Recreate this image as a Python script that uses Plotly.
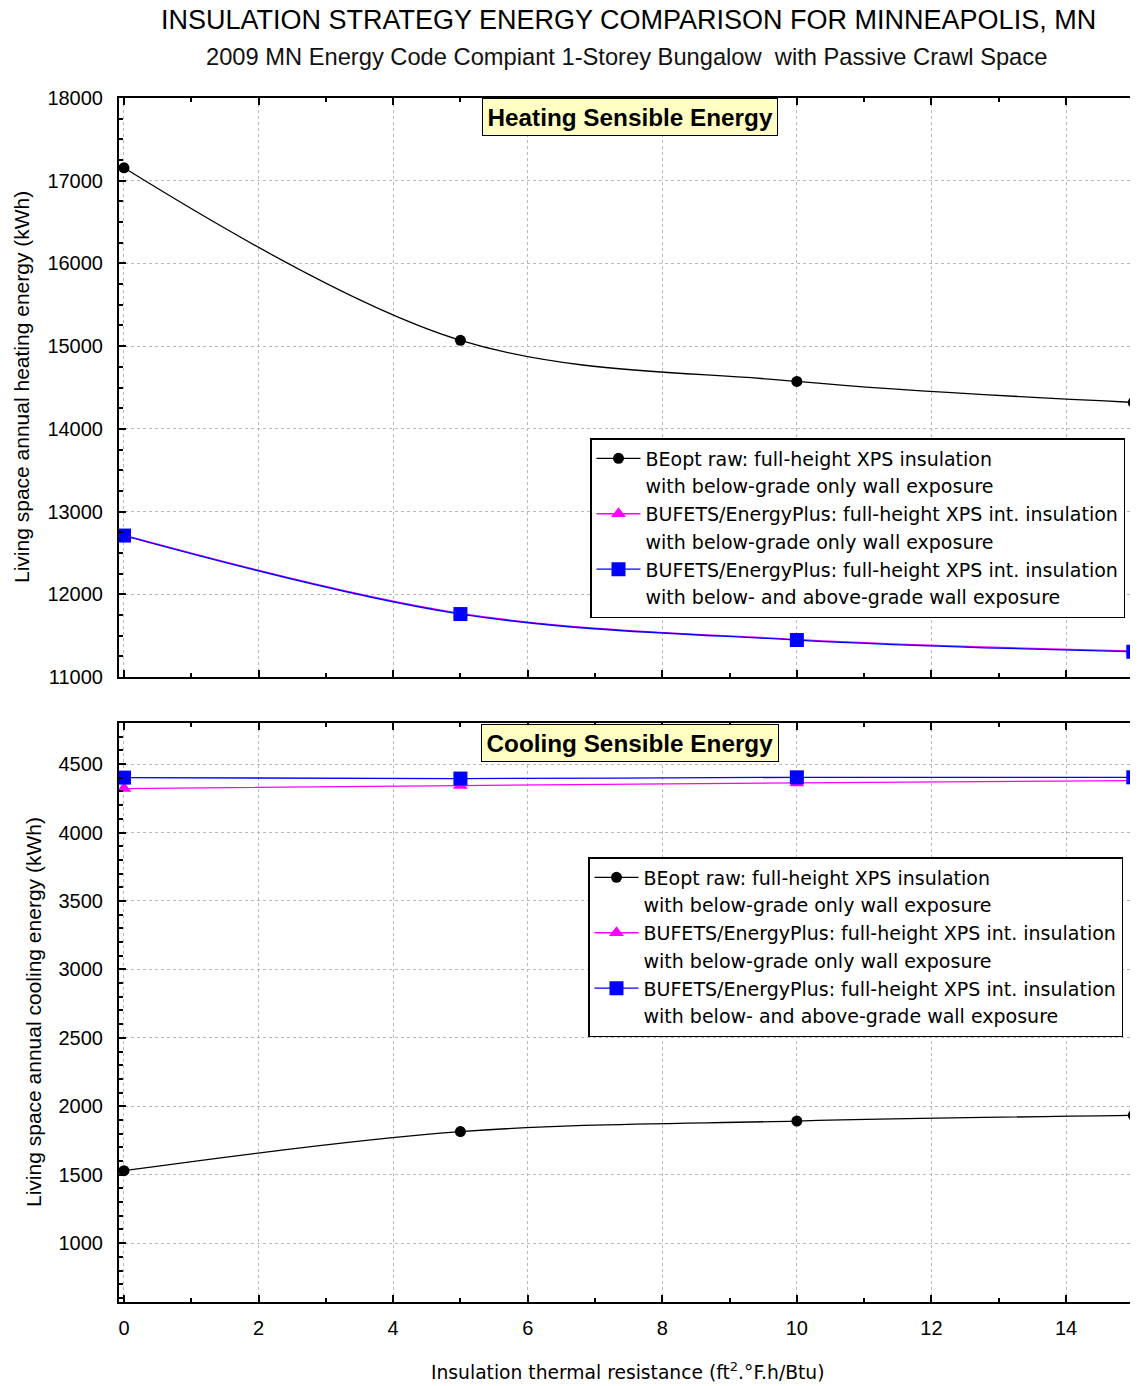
import plotly.graph_objects as go

# ---------------- data ----------------
r_values = [0, 5, 10, 15]

heat_beopt = [17156, 15070, 14574, 14320]
heat_bufets_below = [12715, 11770, 11455, 11315]
heat_bufets_both = [12710, 11761, 11447, 11305]

cool_beopt = [1529, 1815, 1892, 1934]
cool_bufets_below = [4321, 4343, 4362, 4379]
cool_bufets_both = [4401, 4394, 4403, 4403]

series_names = [
    "BEopt raw: full-height XPS insulation",
    "BUFETS/EnergyPlus: full-height XPS int. insulation",
    "BUFETS/EnergyPlus: full-height XPS int. insulation",
]
series_second_lines = [
    "with below-grade only wall exposure",
    "with below-grade only wall exposure",
    "with below- and above-grade wall exposure",
]
series_colors = ["#000000", "#FF00FF", "#0000FF"]
series_symbols = ["circle", "triangle-up", "square"]
series_sizes = [11, 13, 14]

title_text = "INSULATION STRATEGY ENERGY COMPARISON FOR MINNEAPOLIS, MN"
subtitle_text = "2009 MN Energy Code Compiant 1-Storey Bungalow  with Passive Crawl Space"
heat_label = "Heating Sensible Energy"
cool_label = "Cooling Sensible Energy"
heat_ytitle = "Living space annual heating energy (kWh)"
cool_ytitle = "Living space annual cooling energy (kWh)"
x_title = "Insulation thermal resistance (ft<sup>2</sup>.°F.h/Btu)"

# page offset (body margin of the html page)
OFF = 8
W, H = 1130, 1378
FONT = "Liberation Sans"
LEG_FONT = "DejaVu Sans"

fig = go.Figure()

def add_panel(values_list, xaxis, yaxis, legend):
    for i in range(3):
        fig.add_trace(go.Scatter(
            x=r_values, y=values_list[i], xaxis=xaxis, yaxis=yaxis,
            mode="lines+markers",
            line=dict(color=series_colors[i], width=1.3, shape="spline", smoothing=1.0),
            marker=dict(symbol=series_symbols[i], size=series_sizes[i], color=series_colors[i]),
            name=series_names[i], legend=legend,
            legendrank=2 * i + 1,
        ))
        fig.add_trace(go.Scatter(
            x=[None], y=[None], xaxis=xaxis, yaxis=yaxis, mode="lines",
            line=dict(color="rgba(0,0,0,0)", width=0),
            name=series_second_lines[i], legend=legend,
            legendrank=2 * i + 2, hoverinfo="skip",
        ))

add_panel([heat_beopt, heat_bufets_below, heat_bufets_both], "x", "y", "legend")
add_panel([cool_beopt, cool_bufets_below, cool_bufets_both], "x2", "y2", "legend2")

def px_x(p):
    return (p - OFF) / W

def px_y(p):
    return 1 - (p - OFF) / H

xdom = [px_x(119), min(1.0, px_x(1137))]
top_dom = [px_y(677), px_y(98)]
bot_dom = [px_y(1302), px_y(723)]
xrange_ = [-0.074, 15.055]

axis_common = dict(
    showline=True, linecolor="black", linewidth=2, mirror="ticks",
    ticks="inside", ticklen=7, tickwidth=2, tickcolor="black",
    showgrid=True, gridcolor="#b8b8b8", griddash="dot", gridwidth=1,
    zeroline=False, automargin=False,
    tickfont=dict(family=FONT, size=20, color="black"),
)
minor_common = dict(ticks="inside", ticklen=4, tickwidth=2, tickcolor="black", showgrid=False)

legend_common = dict(
    xanchor="left", yanchor="top",
    bgcolor="white", bordercolor="black", borderwidth=1.5,
    font=dict(family=LEG_FONT, size=19, color="black"),
    itemwidth=44, traceorder="normal",
)

fig.update_layout(
    width=W, height=H,
    margin=dict(l=0, r=0, t=0, b=0),
    paper_bgcolor="white", plot_bgcolor="white",
    showlegend=True,
    xaxis=dict(domain=xdom, range=xrange_, anchor="y", dtick=2, tick0=0,
               showticklabels=False,
               minor=dict(dtick=1, tick0=0, **minor_common),
               **axis_common),
    yaxis=dict(domain=top_dom, range=[11000, 18000], anchor="x", dtick=1000,
               tickformat="d", ticklabelstandoff=10,
               minor=dict(dtick=250, **minor_common),
               **axis_common),
    xaxis2=dict(domain=xdom, range=xrange_, anchor="y2", dtick=2, tick0=0,
                ticklabelstandoff=7,
                minor=dict(dtick=1, tick0=0, **minor_common),
                **axis_common),
    yaxis2=dict(domain=bot_dom, range=[570, 4800], anchor="x2", dtick=500,
                tickformat="d", ticklabelstandoff=10,
                minor=dict(dtick=100, **minor_common),
                **axis_common),
    legend=dict(x=px_x(590), y=px_y(438), **legend_common),
    legend2=dict(x=px_x(588), y=px_y(857), **legend_common),
)

annots = [
    dict(text=title_text, x=px_x(628), y=px_y(20), font=dict(family=FONT, size=27, color="black")),
    dict(text=subtitle_text, x=px_x(626), y=px_y(57), font=dict(family=FONT, size=23.7, color="#111111")),
    dict(text="<b>" + heat_label + "</b>", x=px_x(629.5), y=px_y(117.5), font=dict(family=FONT, size=24.3, color="black"),
         bgcolor="#FFFFC4", bordercolor="black", borderwidth=1, borderpad=4.5),
    dict(text="<b>" + cool_label + "</b>", x=px_x(629.5), y=px_y(742.5), font=dict(family=FONT, size=24.3, color="black"),
         bgcolor="#FFFFC4", bordercolor="black", borderwidth=1, borderpad=4.5),
    dict(text=heat_ytitle, x=px_x(21), y=px_y(387), textangle=-90, font=dict(family=FONT, size=21, color="black")),
    dict(text=cool_ytitle, x=px_x(33), y=px_y(1012), textangle=-90, font=dict(family=FONT, size=21, color="black")),
    dict(text=x_title, x=px_x(628), y=px_y(1371), font=dict(family=LEG_FONT, size=18.7, color="black")),
]
for a in annots:
    fig.add_annotation(xref="paper", yref="paper", showarrow=False, xanchor="center", yanchor="middle", **a)

fig.write_html("out.html")
